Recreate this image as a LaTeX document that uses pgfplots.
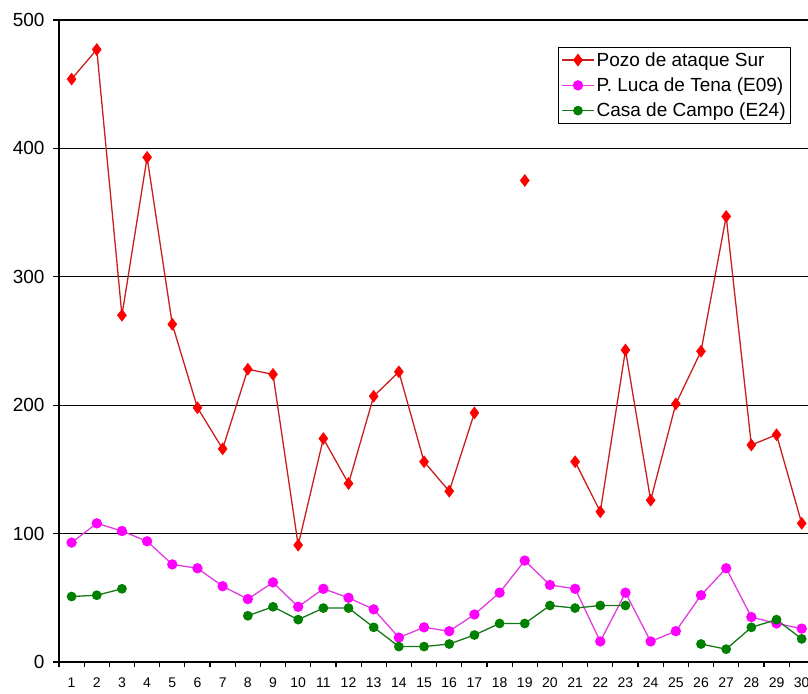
\documentclass[border=0pt]{standalone}
\usepackage{fontspec}
\setmainfont{Liberation Sans}
\usepackage{pgfplots}
\pgfplotsset{compat=1.18}

\definecolor{redline}{RGB}{200,30,30}
\definecolor{redmark}{RGB}{255,0,0}
\definecolor{pinkline}{RGB}{225,60,225}
\definecolor{pinkmark}{RGB}{255,0,255}
\definecolor{greenline}{RGB}{20,120,20}
\definecolor{greenmark}{RGB}{0,128,0}

\begin{document}
\begin{tikzpicture}
% page = reference frame, right side cut as in the original
\useasboundingbox (-59pt,-31pt) rectangle (749pt,662pt);
\begin{axis}[
  scale only axis,
  width=749pt, height=642pt,
  xmin=0.5, xmax=30.25,
  ymin=0, ymax=500,
  axis x line*=bottom,
  axis y line*=left,
  axis line style={line width=1.4pt},
  unbounded coords=jump,
  xtick={1,...,30},
  major x tick style={draw=none},
  minor xtick={0.5,1.5,...,29.5},
  minor x tick style={line width=1.2pt, black},
  minor tick length=5pt,
  ytick={0,100,...,500},
  y tick style={line width=1.2pt, black},
  major tick length=6pt,
  tick align=outside,
  xtick pos=bottom, ytick pos=left,
  ymajorgrids,
  major grid style={black, line width=1.2pt},
  /pgf/number format/assume math mode=true,
  xticklabel style={font=\fontsize{14}{14}\selectfont, yshift=-6pt},
  yticklabel style={font=\fontsize{19}{19}\selectfont, xshift=-5pt},
  legend style={at={(rel axis cs:0.666,0.958)}, anchor=north west,
    draw=black, line width=1pt, inner sep=3pt,
    font=\fontsize{19}{21}\selectfont, row sep=6pt,
    cells={anchor=west}},
  legend image code/.code={%
    \draw[mark repeat=2,mark phase=2,#1] plot coordinates {(0pt,0pt) (16pt,0pt) (32pt,0pt)};},
]
\addplot[redline, line width=1.3pt, mark=diamond*, mark size=6pt,
  mark options={redmark, fill=redmark, line width=0.5pt}] coordinates {
  (1,454) (2,477) (3,270) (4,393) (5,263) (6,198) (7,166) (8,228) (9,224) (10,91)
  (11,174) (12,139) (13,207) (14,226) (15,156) (16,133) (17,194) (18,nan) (19,375) (20,nan)
  (21,156) (22,117) (23,243) (24,126) (25,201) (26,242) (27,347) (28,169) (29,177) (30,108)
};
\addplot[pinkline, line width=1.3pt, mark=*, mark size=4.5pt,
  mark options={pinkmark, fill=pinkmark}] coordinates {
  (1,93) (2,108) (3,102) (4,94) (5,76) (6,73) (7,59) (8,49) (9,62) (10,43)
  (11,57) (12,50) (13,41) (14,19) (15,27) (16,24) (17,37) (18,54) (19,79) (20,60)
  (21,57) (22,16) (23,54) (24,16) (25,24) (26,52) (27,73) (28,35) (29,30) (30,26)
};
\addplot[greenline, line width=1.3pt, mark=*, mark size=4.2pt,
  mark options={greenmark, fill=greenmark}] coordinates {
  (1,51) (2,52) (3,57) (4,nan) (5,nan) (6,nan) (7,nan) (8,36) (9,43) (10,33)
  (11,42) (12,42) (13,27) (14,12) (15,12) (16,14) (17,21) (18,30) (19,30) (20,44)
  (21,42) (22,44) (23,44) (24,nan) (25,nan) (26,14) (27,10) (28,27) (29,33) (30,18)
};
\legend{Pozo de ataque Sur, P. Luca de Tena (E09), Casa de Campo (E24)}
\end{axis}
\end{tikzpicture}
\end{document}
